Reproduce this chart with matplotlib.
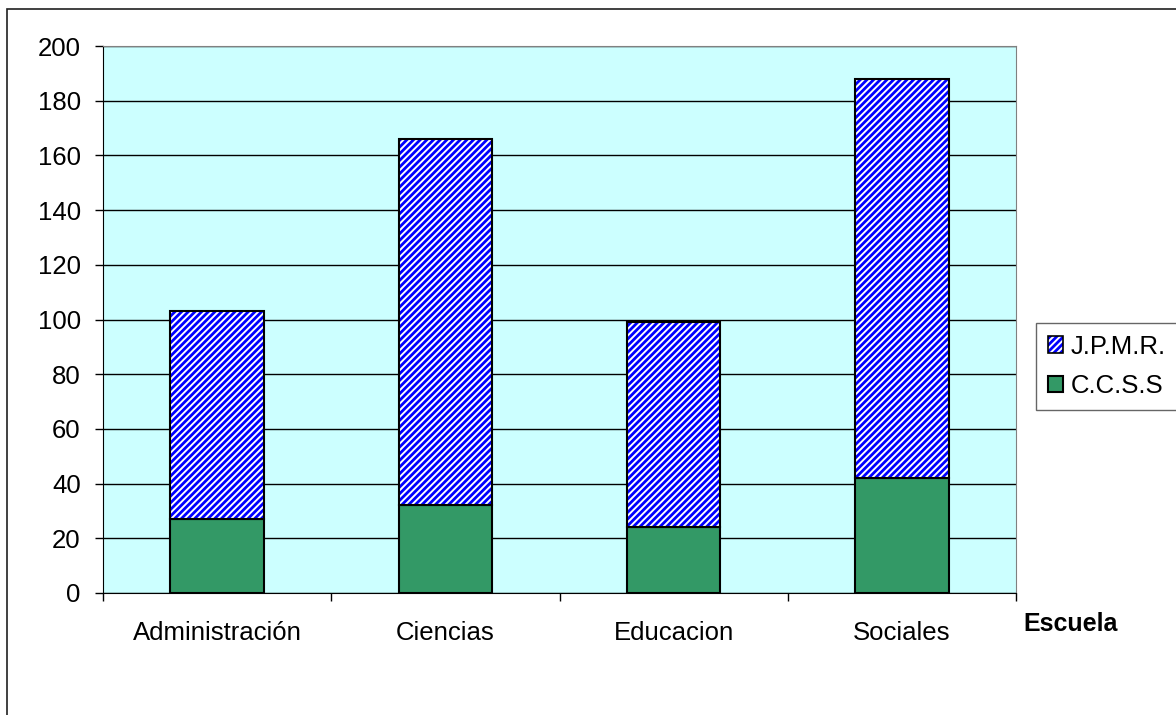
import matplotlib.pyplot as plt
import matplotlib.patches as mpatches
import numpy as np

escuelas = ['Administración', 'Ciencias', 'Educacion', 'Sociales']
ccss = [27, 32, 24, 42]
jpmr = [76, 134, 75, 146]

plt.rcParams['font.family'] = ['Liberation Sans', 'DejaVu Sans']
plt.rcParams['hatch.linewidth'] = 2.0

fig = plt.figure(figsize=(11.76, 7.15), dpi=100)
ax = fig.add_axes([103 / 1176, 1 - 593 / 715, 913 / 1176, 547 / 715])
ax.set_facecolor('#CCFFFF')

x = np.arange(len(escuelas))
ax.bar(x, ccss, width=0.41, color='#339966', edgecolor='black', linewidth=1.5,
       label='C.C.S.S', zorder=3)
# hatch layer (edgecolor drives hatch colour), then a black outline on top
ax.bar(x, jpmr, width=0.41, bottom=ccss, color='white', edgecolor='#0000FF',
       hatch='/////', linewidth=0, label='J.P.M.R.', zorder=3)
ax.bar(x, jpmr, width=0.41, bottom=ccss, fill=False, edgecolor='black',
       linewidth=1.5, zorder=4)

ax.set_xlim(-0.5, 3.5)
ax.set_ylim(0, 200)
ax.set_yticks(range(0, 201, 20))
ax.yaxis.grid(True, color='black', linewidth=1)
ax.set_axisbelow(True)
ax.tick_params(axis='y', labelsize=18.5, length=6, width=1, pad=10)

ax.set_xticks(x)
ax.set_xticklabels(escuelas)
ax.set_xticks(np.arange(-0.5, 3.6, 1), minor=True)
ax.tick_params(axis='x', which='major', length=0, labelsize=18.5, pad=20)
ax.tick_params(axis='x', which='minor', length=6, width=1)

for s in ['top', 'right']:
    ax.spines[s].set_color('#808080')
for s in ['left', 'bottom']:
    ax.spines[s].set_color('black')

hatch_fill = mpatches.Patch(facecolor='white', edgecolor='#0000FF', hatch='/////',
                            linewidth=0)
hatch_edge = mpatches.Patch(fill=False, edgecolor='black', linewidth=1.2)
green_handle = mpatches.Patch(facecolor='#339966', edgecolor='black', linewidth=1.5)
leg = fig.legend([(hatch_fill, hatch_edge), green_handle], ['J.P.M.R.', 'C.C.S.S'],
                 loc='upper left', bbox_to_anchor=(1036 / 1176, 1 - 323 / 715),
                 fontsize=18.5, frameon=True, fancybox=False, handlelength=0.6,
                 handleheight=0.6, handletextpad=0.3, borderaxespad=0,
                 labelspacing=0.6, borderpad=0.45)
leg.get_frame().set_edgecolor('#404040')
leg.get_frame().set_linewidth(1)

fig.text(1023 / 1176, 1 - 624 / 715, 'Escuela', fontsize=18, fontweight='bold',
         ha='left', va='center')

border = mpatches.Rectangle((7 / 1176, -0.1), 1.2, 1.1 - 9 / 715,
                            transform=fig.transFigure, fill=False,
                            edgecolor='#202020', linewidth=1.2)
fig.patches.append(border)

fig.savefig('out.png', dpi=100)
